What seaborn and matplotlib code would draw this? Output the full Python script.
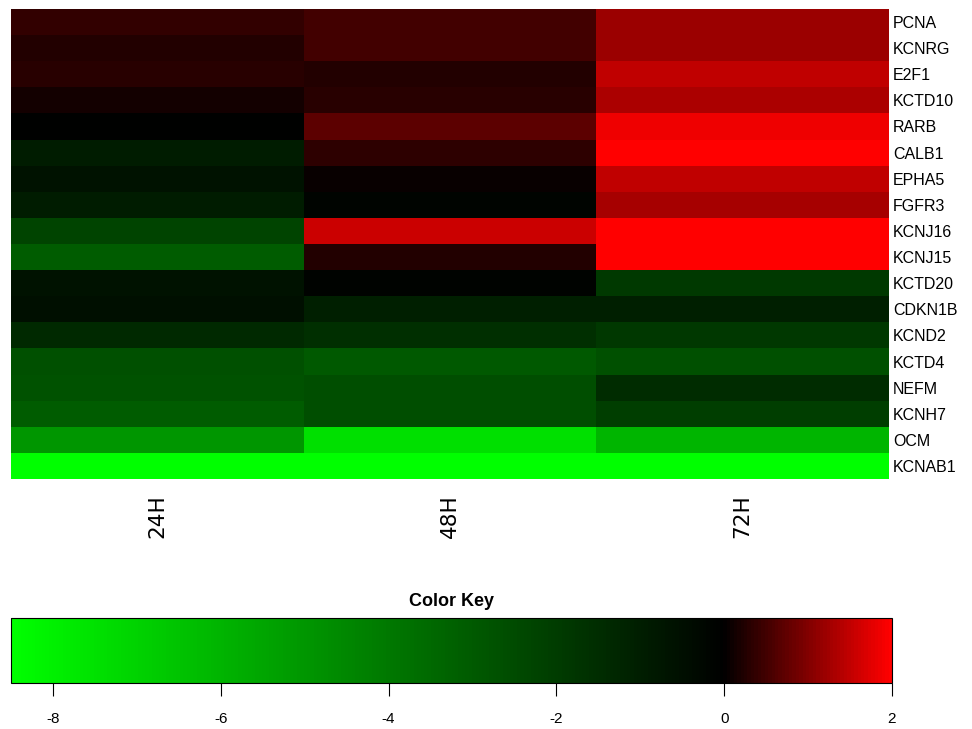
import numpy as np
import pandas as pd
import matplotlib
matplotlib.use("Agg")
import matplotlib.pyplot as plt
import seaborn as sns
from matplotlib.colors import LinearSegmentedColormap, Normalize
from matplotlib.cm import ScalarMappable

# values (log fold change)
genes = ["PCNA", "KCNRG", "E2F1", "KCTD10", "RARB", "CALB1", "EPHA5", "FGFR3",
         "KCNJ16", "KCNJ15", "KCTD20", "CDKN1B", "KCND2", "KCTD4", "NEFM",
         "KCNH7", "OCM", "KCNAB1"]
timepoints = ["24H", "48H", "72H"]

h24 = [0.38, 0.25, 0.31, 0.12, -0.05, -0.93, -0.6, -0.93, -2.27, -3.07,
       -0.6, -0.53, -1.4, -2.67, -2.73, -3.07, -5.0, -8.5]
h48 = [0.52, 0.52, 0.25, 0.31, 0.71, 0.35, 0.04, -0.17, 1.57, 0.24,
       -0.13, -1.07, -1.6, -3.0, -2.6, -2.6, -7.47, -8.5]
h72 = [1.18, 1.18, 1.47, 1.32, 1.87, 2.0, 1.5, 1.29, 2.0, 2.0,
       -1.93, -1.07, -1.87, -2.67, -1.47, -2.07, -6.0, -8.5]

key_min, key_max = -8.5, 2.0
key_ticks = [-8, -6, -4, -2, 0, 2]

df = pd.DataFrame({"24H": h24, "48H": h48, "72H": h72}, index=genes)

plt.rcParams["font.family"] = ["Liberation Sans", "DejaVu Sans"]
plt.rcParams["axes.unicode_minus"] = False

mid = (0 - key_min) / (key_max - key_min)
cmap = LinearSegmentedColormap.from_list(
    "gbr", [(0, "#00ff00"), (mid, "#000000"), (1, "#ff0000")], N=256)
norm = Normalize(vmin=key_min, vmax=key_max)

W, H = 972, 729
fig = plt.figure(figsize=(W / 100, H / 100), dpi=100)

# heatmap
ax = fig.add_axes([11 / W, (H - 479) / H, 878 / W, 470 / H])
sns.heatmap(df, cmap=cmap, vmin=key_min, vmax=key_max, cbar=False, ax=ax,
            linewidths=0)
ax.yaxis.tick_right()
ax.set_yticklabels(genes, rotation=0, fontsize=11.5)
ax.set_xticklabels(timepoints, rotation=90, fontsize=15.5, family="DejaVu Sans",
                   va="top")
ax.tick_params(axis="y", length=0, pad=3)
ax.tick_params(axis="x", length=0, pad=11)
ax.set_xlabel("")
ax.set_ylabel("")

# colour key
cax = fig.add_axes([11 / W, (H - 683) / H, 881 / W, 65 / H])
cb = fig.colorbar(ScalarMappable(norm=norm, cmap=cmap), cax=cax,
                  orientation="horizontal")
cb.set_ticks(key_ticks)
cb.ax.tick_params(labelsize=11, length=9, width=0.8, pad=12)
cb.outline.set_linewidth(0.8)
cax.set_title("Color Key", fontsize=13, fontweight="bold", pad=9)

fig.savefig("out.png", dpi=100)
